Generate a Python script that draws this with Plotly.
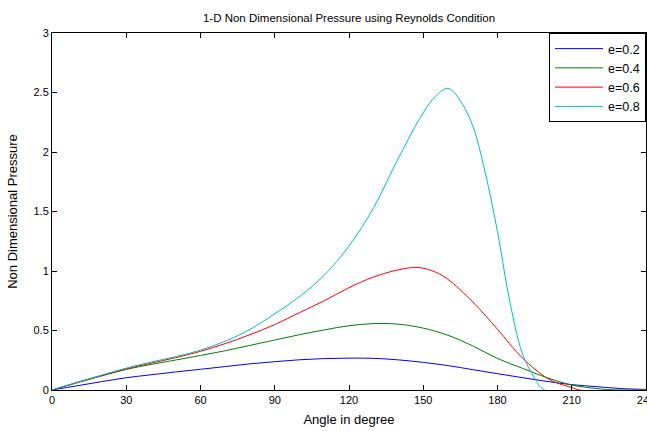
import plotly.graph_objects as go

# Data
angle_e02 = [0, 10, 20, 30, 40, 50, 60, 70, 80, 90, 100, 110, 120, 130, 140, 150, 160, 170, 180, 190, 200, 210, 220, 230, 240]
p_e02 = [0, 0.035, 0.07, 0.103, 0.128, 0.152, 0.174, 0.197, 0.22, 0.238, 0.254, 0.264, 0.268, 0.266, 0.253, 0.232, 0.205, 0.171, 0.137, 0.104, 0.072, 0.045, 0.028, 0.012, 0.005]

angle_e04 = [0, 10, 20, 30, 40, 50, 60, 70, 80, 90, 100, 110, 120, 130, 140, 150, 160, 170, 180, 190, 200, 210, 220, 226, 240]
p_e04 = [0, 0.06, 0.118, 0.173, 0.215, 0.252, 0.29, 0.33, 0.375, 0.42, 0.465, 0.505, 0.54, 0.558, 0.553, 0.52, 0.46, 0.37, 0.265, 0.183, 0.103, 0.042, 0.012, 0.002, 0]

angle_e06 = [0, 10, 20, 30, 40, 50, 60, 70, 80, 90, 100, 110, 120, 130, 140, 148, 155, 160, 170, 180, 190, 200, 205, 210, 213, 240]
p_e06 = [0, 0.062, 0.12, 0.178, 0.225, 0.272, 0.325, 0.39, 0.465, 0.55, 0.65, 0.75, 0.86, 0.95, 1.01, 1.03, 0.99, 0.93, 0.74, 0.51, 0.27, 0.1, 0.052, 0.022, 0.0, 0]

angle_e08 = [0, 10, 20, 30, 40, 50, 60, 70, 80, 90, 100, 110, 120, 130, 140, 150, 155, 160, 165, 170, 175, 180, 185, 190, 195, 199, 240]
p_e08 = [0, 0.064, 0.125, 0.184, 0.235, 0.28, 0.335, 0.41, 0.51, 0.64, 0.785, 0.965, 1.21, 1.535, 1.95, 2.33, 2.47, 2.535, 2.43, 2.22, 1.83, 1.33, 0.74, 0.31, 0.1, 0.0, 0]

series = [
    ("e=0.2", angle_e02, p_e02, "#0000FF"),
    ("e=0.4", angle_e04, p_e04, "#008000"),
    ("e=0.6", angle_e06, p_e06, "#FF0000"),
    ("e=0.8", angle_e08, p_e08, "#00BFBF"),
]

x_ticks = [0, 30, 60, 90, 120, 150, 180, 210, 240]
y_ticks = [0, 0.5, 1, 1.5, 2, 2.5, 3]

fig = go.Figure()
for name, xs, ys, col in series:
    fig.add_trace(go.Scatter(x=xs, y=ys, mode="lines", name=name,
                             line=dict(color=col, width=1, shape="spline", smoothing=1.0)))

font = dict(family="Liberation Sans, Arial, sans-serif", size=11, color="black")
axis_common = dict(showgrid=False, zeroline=False, showline=True, linecolor="black",
                   linewidth=1, mirror="ticks", ticks="inside", ticklen=5,
                   tickcolor="black", tickfont=font, automargin=False)

fig.update_layout(
    width=647, height=431,
    margin=dict(l=52, r=1, t=33, b=41),
    paper_bgcolor="white", plot_bgcolor="white",
    font=font,
    title=dict(text="1-D Non Dimensional Pressure using Reynolds Condition",
               x=0.5, xref="paper", y=1, yref="paper", yanchor="bottom",
               pad=dict(b=11), font=dict(size=11.5)),
    xaxis=dict(range=[0, 240], tickvals=x_ticks, ticklabeloverflow="allow",
               title=dict(text="Angle in degree", standoff=9), **axis_common),
    yaxis=dict(range=[0, 3], tickvals=y_ticks,
               title=dict(text="Non Dimensional Pressure", standoff=12), **axis_common),
    legend=dict(x=1, y=1, xanchor="right", yanchor="top", bgcolor="white",
                bordercolor="black", borderwidth=1, font=dict(size=12.5),
                itemwidth=48, tracegroupgap=0),
    showlegend=True,
)

fig.write_html("out.html")
